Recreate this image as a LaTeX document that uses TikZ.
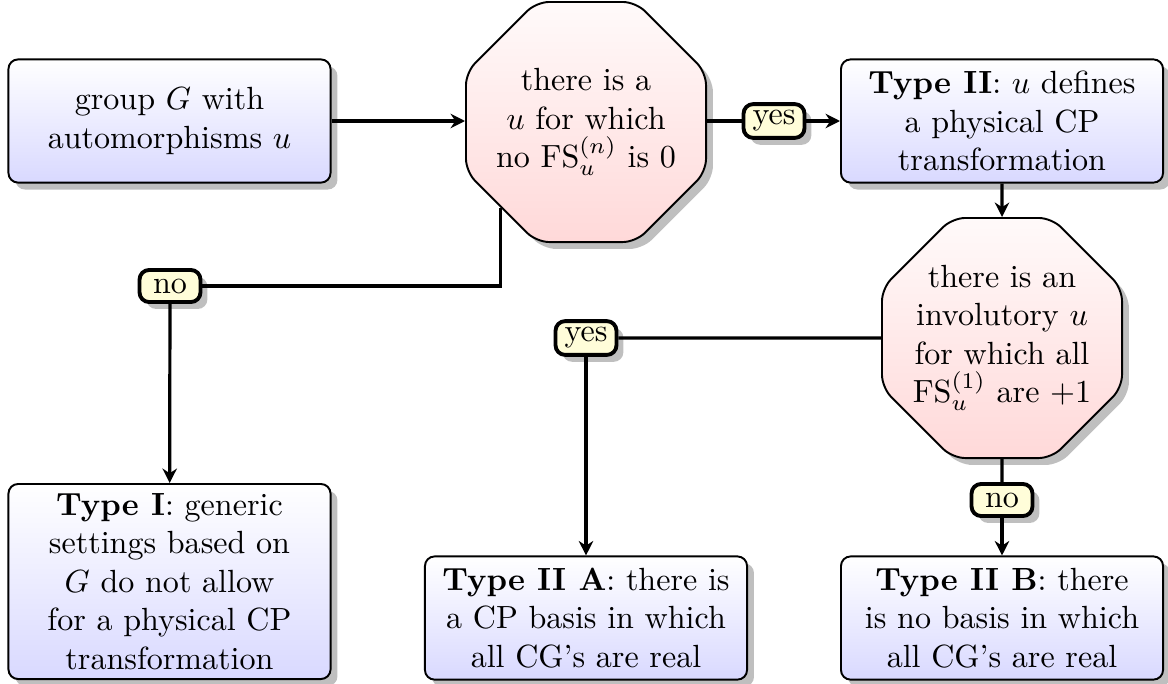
\documentclass[tikz,border=0pt]{standalone}
\usetikzlibrary{shapes.geometric,shadows,arrows.meta}
\tikzset{
  box/.style={draw, semithick, rounded corners=3pt, top color=white, bottom color=blue!15,
    align=center, minimum width=100.4pt, minimum height=38.4pt, inner sep=2pt, drop shadow},
  octa/.style={draw, semithick, regular polygon, regular polygon sides=8, rounded corners=4pt,
    top color=red!2, bottom color=red!15, align=center, minimum size=81pt, inner sep=-10pt, drop shadow},
  lab/.style={draw, very thick, rounded corners=3pt, fill=yellow!15, inner sep=2pt,
    minimum width=19pt, minimum height=10pt, drop shadow},
  link/.style={line width=1pt},
  conn/.style={line width=1pt, -{Stealth[length=4.5pt,width=4.5pt]}}
}
\begin{document}
\begin{tikzpicture}[x=0.3117pt, y=-0.3117pt]
\useasboundingbox (0,0) rectangle (1168,683);
\node[box] (A) at (169.5,121) {group $G$ with\\ automorphisms $u$};
\node[octa] (O1) at (586,122) {there is a\\ $u$ for which\\ no $\mathrm{FS}_u^{(n)}$ is 0};
\node[box] (B) at (1002,121) {\textbf{Type II}: $u$ defines\\ a physical CP\\ transformation};
\node[octa] (O2) at (1002,338) {there is an\\ involutory $u$\\ for which all\\ $\mathrm{FS}_u^{(1)}$ are $+1$};
\node[box, minimum height=60.8pt] (TI) at (169.5,581.5) {\textbf{Type I}: generic\\ settings based on\\ $G$ do not allow\\ for a physical CP\\ transformation};
\node[box] (IIA) at (586,618) {\textbf{Type II A}: there is\\ a CP basis in which\\ all CG's are real};
\node[box] (IIB) at (1002,618) {\textbf{Type II B}: there\\ is no basis in which\\ all CG's are real};
\node[lab] (yes1) at (774,121) {yes};
\node[lab] (no1) at (170,286) {no};
\node[lab] (yes2) at (586,338) {yes};
\node[lab] (no2) at (1002,500) {no};
\draw[conn] (A) -- (A -| O1.west);
\draw[link] (O1.east |- yes1) -- (yes1);
\draw[conn] (yes1) -- (B);
\draw[conn] (B) -- (O2);
\draw[link] (O1.south west) |- (no1);
\draw[conn] (no1) -- (TI);
\draw[link] (O2) -- (yes2);
\draw[conn] (yes2) -- (IIA);
\draw[link] (O2) -- (no2);
\draw[conn] (no2) -- (IIB);
\end{tikzpicture}
\end{document}
